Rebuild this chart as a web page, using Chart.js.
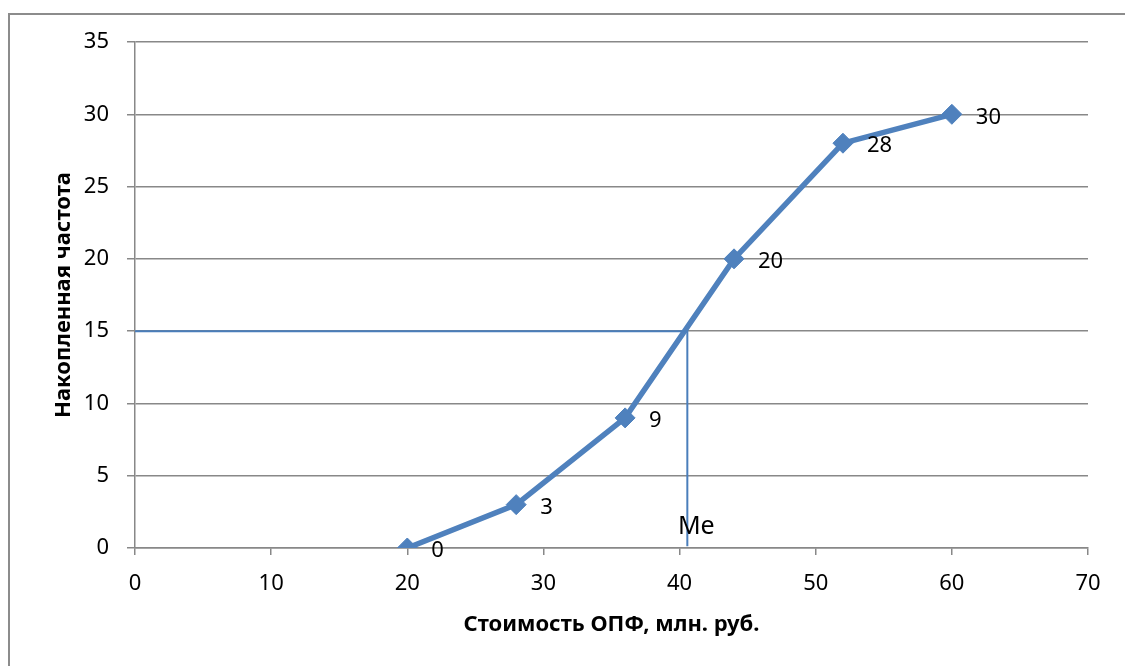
<!DOCTYPE html>
<html><head><meta charset="utf-8">
<script src="https://cdn.jsdelivr.net/npm/chart.js@4/dist/chart.umd.min.js"></script>
<style>
html,body{margin:0;padding:0;background:#fff;overflow:hidden}
#wrap{position:absolute;left:0;top:0;width:1125px;height:666px}
#frame{position:absolute;left:8px;top:13px;width:1200px;height:800px;border-left:2px solid #8c8c8c;border-top:2px solid #8c8c8c;box-sizing:border-box}
canvas{position:absolute;left:0;top:0}
</style></head>
<body><div id="wrap"><div id="frame"></div><canvas id="c" width="1125" height="666"></canvas></div>
<script>
const xValues = [20, 28, 36, 44, 52, 60];
const cumFreq = [0, 3, 9, 20, 28, 30];
const pointLabels = ['0', '3', '9', '20', '28', '30'];
const medianLevel = 15;
const medianX = 40.57;
const medianLineEndY = 0.12;
const medianLabel = 'Me';
const medianLabelY = 1.45;
const xTitle = 'Стоимость ОПФ, млн. руб.';
const yTitle = 'Накопленная частота';

const FONT = "'Noto Sans', sans-serif";
const blue = '#4A7EBB';

const labelPlugin = {
  id: 'labels',
  afterDatasetsDraw(chart) {
    const ctx = chart.ctx;
    const meta = chart.getDatasetMeta(1);
    ctx.save();
    ctx.fillStyle = '#000';
    ctx.font = '22px ' + FONT;
    ctx.textAlign = 'left';
    ctx.textBaseline = 'middle';
    meta.data.forEach((pt, i) => {
      ctx.fillText(pointLabels[i], pt.x + 24, pt.y + 3);
    });
    const xs = chart.scales.x, ys = chart.scales.y;
    ctx.font = '25px ' + FONT;
    ctx.textAlign = 'center';
    ctx.fillText(medianLabel, xs.getPixelForValue(medianX) + 9, ys.getPixelForValue(medianLabelY));
    ctx.restore();
  }
};

new Chart(document.getElementById('c'), {
  type: 'scatter',
  data: {
    datasets: [
      {
        data: [{x: 0, y: medianLevel}, {x: medianX, y: medianLevel}, {x: medianX, y: medianLineEndY}],
        showLine: true, borderColor: blue, borderWidth: 2, pointRadius: 0, fill: false
      },
      {
        data: xValues.map((x, i) => ({x, y: cumFreq[i]})),
        showLine: true, borderColor: '#4F81BD', borderWidth: 5.5,
        pointStyle: 'rectRot', pointRadius: 10, pointBackgroundColor: '#4F81BD', pointBorderColor: '#4F81BD', pointBorderWidth: 1,
        fill: false
      }
    ]
  },
  options: {
    responsive: false, animation: false, devicePixelRatio: 1,
    layout: {padding: {left: 51, right: 37, top: 42, bottom: 28}},
    plugins: {legend: {display: false}, tooltip: {enabled: false}},
    scales: {
      x: {
        type: 'linear', min: 0, max: 70,
        ticks: {stepSize: 10, color: '#000', font: {family: FONT, size: 22}, padding: 16},
        grid: {drawOnChartArea: false, drawTicks: true, tickLength: 7, color: '#888', lineWidth: 1.5},
        border: {color: '#888', width: 1.5},
        title: {display: true, text: xTitle, color: '#000', font: {family: FONT, size: 22, weight: 'bold'}, padding: {top: 14, bottom: 0}},
        afterFit(s) { s.height = 90; }
      },
      y: {
        type: 'linear', min: 0, max: 35,
        ticks: {stepSize: 5, color: '#000', font: {family: FONT, size: 22}, padding: 18},
        grid: {color: '#888', lineWidth: 1.5, tickLength: 8},
        border: {color: '#888', width: 1.5},
        title: {display: true, text: yTitle, color: '#000', font: {family: FONT, size: 22, weight: 'bold'}, padding: 0},
        afterFit(s) { s.width = 84; }
      }
    }
  },
  plugins: [labelPlugin]
});
</script></body></html>
